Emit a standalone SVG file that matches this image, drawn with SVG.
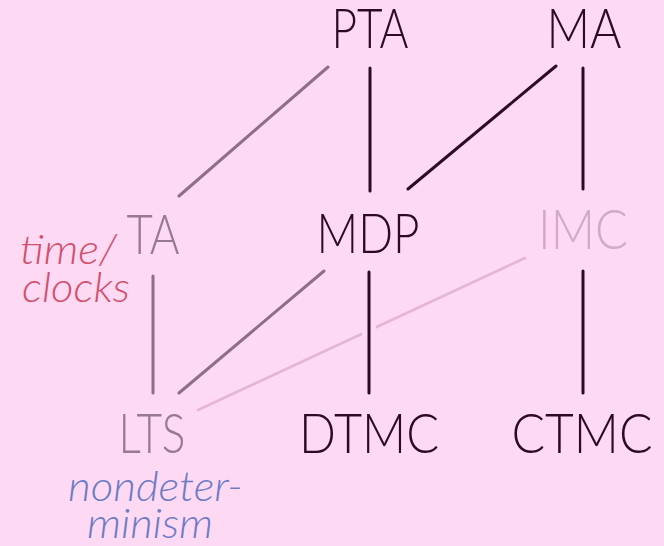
<svg xmlns="http://www.w3.org/2000/svg" width="664" height="546" viewBox="0 0 664 546">
  <style>
    .lbl { font-family: "Lato", "Liberation Sans", sans-serif; font-weight: 300; font-size: 55px; text-anchor: middle; }
    .dark { fill: #2c0a26; }
    .mid { fill: #977a91; }
    .pale { fill: #d2a9c8; }
    .note { font-family: "Lato", "Liberation Sans", sans-serif; font-weight: 300; font-style: italic; font-size: 42px; }
    .edge { stroke-width: 3; stroke-linecap: round; fill: none; }
    .e-dark { stroke: #2c0a26; }
    .e-mid { stroke: #8e6e88; }
    .e-pale { stroke: #e4b5d6; stroke-width: 2.6; }
    .halo { stroke: #fed9f3; stroke-width: 14; }
  </style>
  <rect width="664" height="546" fill="#fed9f3"/>

  <!-- connectors -->
  <g id="edges">
    <line class="edge e-mid" x1="328" y1="67" x2="179" y2="196"/>
    <line class="edge e-dark" x1="370" y1="68" x2="370" y2="191"/>
    <line class="edge e-dark" x1="556" y1="66" x2="408" y2="189"/>
    <line class="edge e-dark" x1="583" y1="68" x2="583" y2="189"/>
    <line class="edge e-mid" x1="153" y1="276" x2="153" y2="393"/>
    <line class="edge e-mid" x1="324" y1="271" x2="179" y2="393"/>
    <line class="edge e-pale" x1="525" y1="258" x2="198" y2="410"/>
    <!-- MDP to DTMC, drawn over the pale edge with a gap around it -->
    <line class="edge halo" x1="369" y1="274" x2="369" y2="391"/>
    <line class="edge e-dark" x1="369" y1="272" x2="369" y2="393"/>
    <line class="edge e-dark" x1="583" y1="271" x2="583" y2="393"/>
  </g>

  <!-- nodes -->
  <g id="PTA"><text class="lbl dark" x="370" y="48" textLength="77" lengthAdjust="spacingAndGlyphs">PTA</text></g>
  <g id="MA"><text class="lbl dark" x="584" y="48" textLength="75" lengthAdjust="spacingAndGlyphs">MA</text></g>
  <g id="TA"><text class="lbl mid" x="153" y="254" textLength="53" lengthAdjust="spacingAndGlyphs">TA</text></g>
  <g id="MDP"><text class="lbl dark" x="368" y="253" textLength="103" lengthAdjust="spacingAndGlyphs">MDP</text></g>
  <g id="IMC"><text class="lbl pale" x="583" y="249" textLength="90" lengthAdjust="spacingAndGlyphs">IMC</text></g>
  <g id="LTS"><text class="lbl mid" x="152" y="453" textLength="67" lengthAdjust="spacingAndGlyphs">LTS</text></g>
  <g id="DTMC"><text class="lbl dark" x="369" y="453" textLength="140" lengthAdjust="spacingAndGlyphs">DTMC</text></g>
  <g id="CTMC"><text class="lbl dark" x="582" y="453" textLength="141" lengthAdjust="spacingAndGlyphs">CTMC</text></g>

  <!-- axis notes -->
  <g id="note-time" fill="#d24f6b">
    <text class="note" x="20" y="264" textLength="97" lengthAdjust="spacingAndGlyphs">time/</text>
    <text class="note" x="22" y="302" textLength="108" lengthAdjust="spacingAndGlyphs">clocks</text>
  </g>
  <g id="note-nondet" fill="#6b7cc6">
    <text class="note" x="68" y="501" textLength="175" lengthAdjust="spacingAndGlyphs">nondeter-</text>
    <text class="note" x="87" y="538" textLength="126" lengthAdjust="spacingAndGlyphs">minism</text>
  </g>
</svg>
